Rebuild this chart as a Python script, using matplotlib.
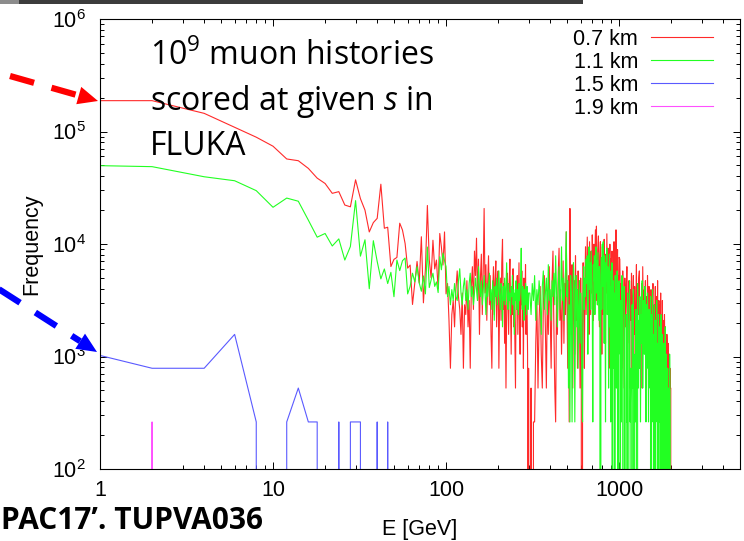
import matplotlib
matplotlib.use('Agg')
import matplotlib.pyplot as plt
from matplotlib.ticker import FuncFormatter, NullFormatter
import numpy as np

plt.rcParams['font.family'] = ['Liberation Sans', 'DejaVu Sans']
plt.rcParams['mathtext.fontset'] = 'custom'
plt.rcParams['mathtext.rm'] = 'Open Sans'
plt.rcParams['mathtext.it'] = 'Open Sans:italic'

COUNT = 262.0  # frequency of one scored muon

# 1-100 GeV, 2 GeV bins, read point by point (frequency)
energy_low = [1] + list(range(2, 101, 2))
red_low = [1.88e5, 1.88e5, 1.45e5, 1.09e5, 8.9e4, 7.4e4, 5.7e4, 5.5e4, 4.7e4, 3.85e4,
           3.45e4, 2.82e4, 2.92e4, 2.22e4, 2.14e4, 3.72e4, 2.53e4, 2.0e4, 1.28e4, 1.55e4,
           1.69e4, 3.4e4, 1.38e4, 1.41e4, 6.3e3, 7.3e3, 7.6e3, 1.53e4, 1.33e4, 1.01e4,
           6.1e3, 6.5e3, 2.9e3, 4.5e3, 7.0e3, 4.5e3, 1.16e4, 3.0e3, 6.0e3, 2.2e4,
           7.2e3, 5.0e3, 1.08e4, 6.0e3, 7.2e3, 4.0e3, 1.24e4, 9.4e3, 6.5e3, 1.28e4,
           3.6e3]
green_low = [4.97e4, 4.87e4, 3.96e4, 3.65e4, 2.98e4, 2.12e4, 2.56e4, 2.4e4, 1.63e4, 1.15e4,
             1.24e4, 9.6e3, 1.11e4, 7.2e3, 9.5e3, 2.43e4, 7.8e3, 1.09e4, 4.0e3, 1.07e4,
             7.0e3, 4.9e3, 6.0e3, 4.45e3, 5.6e3, 3.4e3, 7.2e3, 5.8e3, 7.1e3, 7.5e3,
             3.6e3, 4.2e3, 5.5e3, 4.6e3, 6.3e3, 4.5e3, 3.8e3, 5.2e3, 3.6e3, 9.4e3,
             4.1e3, 4.8e3, 5.5e3, 4.2e3, 4.6e3, 3.7e3, 7.7e3, 5.9e3, 8.3e3, 7.1e3,
             6.3e3]

# 102-300 GeV (2 GeV steps), counts of scored muons
red_mid = [17, 8, 3, 9, 12, 7, 15, 22, 13, 10,
           6, 14, 3, 11, 9, 18, 7, 12, 3, 16,
           24, 10, 33, 20, 43, 12, 28, 6, 19, 31,
           9, 22, 79, 14, 25, 8, 17, 30, 11, 20,
           6, 3, 14, 24, 9, 18, 27, 7, 15, 22,
           3, 12, 19, 8, 26, 42, 10, 17, 5, 14,
           2, 9, 21, 13, 6, 18, 28, 11, 4, 16,
           9, 23, 7, 13, 5, 2, 15, 10, 20, 6,
           12, 26, 8, 4, 17, 11, 22, 7, 14, 3,
           19, 9, 12, 25, 6, 15, 10, 4, 0, 3]
green_mid = [13, 16, 11, 15, 12, 17, 13, 12, 18, 23,
             14, 11, 16, 19, 12, 15, 10, 17, 21, 13,
             16, 11, 14, 19, 15, 12, 24, 16, 13, 18,
             11, 15, 20, 14, 9, 17, 13, 16, 21, 12,
             15, 10, 18, 14, 8, 16, 13, 19, 11, 15,
             22, 13, 10, 17, 14, 7, 16, 12, 19, 11,
             15, 26, 13, 10, 17, 12, 14, 9, 16, 13,
             20, 11, 15, 6, 14, 12, 18, 10, 15, 13,
             9, 17, 12, 14, 20, 35, 13, 10, 16, 12,
             8, 15, 11, 17, 13, 9, 16, 12, 10, 14]

# 305-1000 GeV (5 GeV steps), counts
red_high = [0, 2, 0, 1, 1, 5, 12, 2, 8, 16,
            4, 2, 11, 20, 7, 2, 14, 6, 24, 9,
            3, 18, 33, 7, 2, 1, 13, 6, 21, 35,
            8, 15, 4, 11, 27, 5, 17, 9, 49, 12,
            3, 20, 1, 79, 14, 6, 25, 2, 10, 18,
            4, 30, 8, 15, 3, 22, 9, 13, 2, 19,
            5, 0, 7, 26, 12, 3, 17, 36, 9, 21,
            44, 13, 30, 6, 40, 18, 9, 33, 14, 46,
            22, 8, 38, 15, 27, 51, 12, 55, 20, 11,
            34, 45, 17, 7, 29, 40, 13, 24, 4, 36,
            19, 9, 27, 42, 15, 22, 5, 31, 14, 47,
            20, 10, 35, 25, 3, 17, 38, 12, 28, 7,
            22, 33, 11, 4, 26, 16, 40, 9, 21, 30,
            13, 51, 18, 6, 25, 34, 12, 20, 8, 29]
green_high = [14, 9, 17, 12, 20, 8, 15, 11, 18, 13,
              6, 16, 22, 10, 14, 19, 9, 25, 12, 15,
              8, 18, 13, 21, 11, 30, 14, 7, 17, 24,
              10, 15, 36, 12, 19, 8, 16, 22, 49, 13,
              18, 2, 11, 1, 20, 14, 1, 9, 26, 16,
              1, 12, 20, 7, 15, 3, 11, 18, 5, 14,
              9, 2, 1, 16, 24, 10, 19, 13, 28, 17,
              30, 4, 22, 36, 15, 26, 10, 33, 20, 12,
              1, 25, 18, 30, 9, 22, 36, 14, 27, 11,
              32, 17, 8, 24, 13, 0, 20, 29, 10, 38,
              16, 40, 22, 5, 30, 12, 1, 26, 18, 35,
              9, 24, 14, 2, 20, 31, 7, 16, 1, 22,
              12, 26, 0, 8, 18, 3, 14, 1, 0, 20,
              6, 15, 2, 10, 22, 1, 0, 13, 4, 18]

# 1010-2000 GeV (10 GeV steps), counts
red_top = [28, 9, 17, 3, 22, 12, 2, 19, 7, 14,
           24, 5, 11, 18, 2, 15, 8, 21, 3, 13,
           20, 6, 16, 2, 11, 25, 4, 14, 9, 19,
           22, 3, 12, 8, 17, 2, 24, 10, 5, 15,
           9, 18, 2, 13, 6, 20, 11, 3, 16, 7,
           14, 2, 15, 9, 4, 12, 17, 6, 2, 11,
           8, 16, 3, 10, 13, 5, 18, 2, 9, 12,
           4, 11, 7, 14, 2, 9, 6, 12, 3, 8,
           6, 2, 9, 4, 7, 3, 5, 2, 6, 4,
           3, 5, 2, 3, 4, 2, 3, 2, 2, 0]
green_top = [0, 12, 1, 20, 5, 0, 16, 2, 0, 9,
             1, 14, 0, 7, 18, 1, 3, 0, 11, 2,
             15, 0, 4, 1, 10, 6, 0, 17, 2, 8,
             3, 13, 1, 9, 5, 18, 2, 7, 12, 4,
             16, 6, 1, 11, 3, 14, 8, 1, 10, 5,
             2, 13, 0, 9, 4, 15, 1, 6, 0, 11,
             3, 0, 8, 2, 12, 1, 5, 0, 9, 3,
             1, 7, 0, 4, 9, 0, 2, 6, 1, 0,
             5, 1, 0, 3, 7, 0, 2, 4, 0, 1,
             3, 0, 2, 1, 0, 4, 1, 0, 0, 0]

blue_energy = [1, 2, 4, 6, 8, 10, 12, 14, 16, 18, 20, 22, 24, 26, 28, 30, 32, 34,
               36, 38, 40, 42, 44, 46, 48]
blue_counts = [3.9, 3, 3, 6, 1, 0, 1, 2, 1, 1, 0, 0, 1, 0, 1, 1, 1, 0,
               0, 0, 1, 0, 0, 1, 0]
magenta_energy = [1, 2, 4]
magenta_counts = [0, 1, 0]

labels = ['0.7 km', '1.1 km', '1.5 km', '1.9 km']
colors = ['#ff2a2a', '#22ff22', '#5a5aff', '#ff50ff']


def full_series(low, mid, high, top):
    e = np.concatenate([energy_low, np.arange(102, 301, 2),
                        np.arange(305, 1001, 5), np.arange(1010, 2001, 10)])
    f = np.concatenate([low, np.array(mid) * COUNT, np.array(high) * COUNT,
                        np.array(top) * COUNT])
    return e, f


fig = plt.figure(figsize=(7.44, 5.41), dpi=100)
ax = fig.add_axes([100 / 744, 72 / 541, 640 / 744, 450 / 541])
ax.set_xscale('log')
ax.set_yscale('log')

e, f = full_series(red_low, red_mid, red_high, red_top)
ax.plot(e, f, color=colors[0], lw=0.8, label=labels[0])
e, f = full_series(green_low, green_mid, green_high, green_top)
ax.plot(e, f, color=colors[1], lw=0.8, label=labels[1])
ax.plot(blue_energy, np.array(blue_counts) * COUNT, color=colors[2], lw=0.8, label=labels[2])
ax.plot(magenta_energy, np.array(magenta_counts) * COUNT, color=colors[3], lw=0.8,
        label=labels[3])

ax.set_xlim(1, 5000)
ax.set_ylim(1e2, 1e6)
ax.xaxis.set_major_formatter(FuncFormatter(lambda v, p: '%g' % v))
ax.xaxis.set_minor_formatter(NullFormatter())
ax.tick_params(which='both', direction='in', top=True, right=True, width=0.7,
               labelsize=15.5)
ax.tick_params(which='major', length=5)
ax.tick_params(which='minor', length=2.8)
ax.tick_params(axis='y', pad=10)
ax.tick_params(axis='x', pad=8)
for s in ax.spines.values():
    s.set_linewidth(0.8)

ax.set_xlabel('E [GeV]', fontsize=15.5)
ax.set_ylabel('Frequency', fontsize=15.5)
ax.xaxis.set_label_coords(0.5, -0.11)
ax.yaxis.set_label_coords(-0.09, 0.5)

ax.legend(loc='upper right', bbox_to_anchor=(0.958, 0.978), frameon=False,
          fontsize=15.5, markerfirst=False, handlelength=2.88, handletextpad=0.6,
          labelspacing=0.09, borderpad=0, borderaxespad=0)

# slide overlay in pixel coordinates
ov = fig.add_axes([0, 0, 1, 1], zorder=5)
ov.set_xlim(0, 744)
ov.set_ylim(541, 0)
ov.axis('off')
ov.patch.set_alpha(0)

ov.add_patch(plt.Rectangle((0, 0), 19, 3.5, color='#8c8c8c', lw=0))
ov.add_patch(plt.Rectangle((19, 0), 564, 4, color='#3c3c3c', lw=0))

ov.text(150, 65, '10$^{\\mathdefault{9}}$ muon histories', fontsize=23,
        family='Open Sans', va='baseline')
ov.text(150, 110, 'scored at given $\\mathit{s}$ in', fontsize=23,
        family='Open Sans', va='baseline')
ov.text(150, 155, 'FLUKA', fontsize=23, family='Open Sans', va='baseline')
ov.text(1, 529, 'PAC17\u2019. TUPVA036', fontsize=21.5, family='Open Sans',
        fontweight='bold', va='baseline')


def dashed_arrow(x0, y0, x1, y1, color, head_len=20, head_w=9):
    d = np.array([x1 - x0, y1 - y0], dtype=float)
    u = d / np.hypot(*d)
    n = np.array([-u[1], u[0]])
    base = np.array([x1, y1]) - head_len * u
    ov.plot([x0, base[0]], [y0, base[1]], color=color, lw=4.5,
            linestyle=(0, (4.0, 2.9)), solid_capstyle='butt', dash_capstyle='butt')
    tri = [(x1, y1), tuple(base + head_w * n), tuple(base - head_w * n)]
    ov.add_patch(plt.Polygon(tri, closed=True, color=color, lw=0))


dashed_arrow(10, 76, 98, 101, '#ff0000')
dashed_arrow(-17, 279, 97, 352, '#0000ff')

fig.savefig('out.png', dpi=100)
